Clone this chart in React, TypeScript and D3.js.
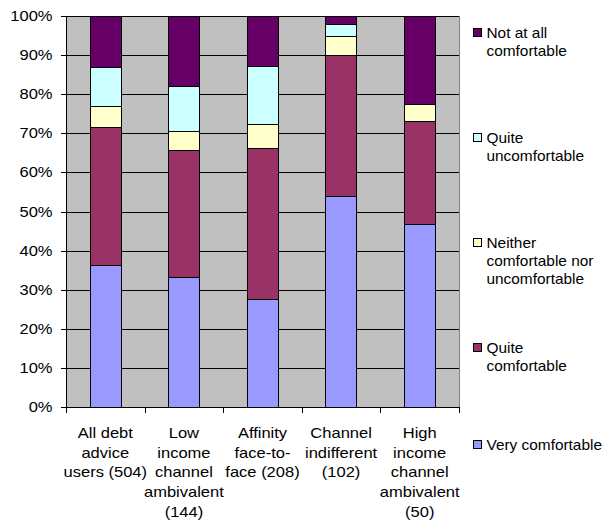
import React from "react";
import * as d3 from "d3";

const categories = [
  ["All debt", "advice", "users (504)"],
  ["Low", "income", "channel", "ambivalent", "(144)"],
  ["Affinity", "face-to-", "face (208)"],
  ["Channel", "indifferent", "(102)"],
  ["High", "income", "channel", "ambivalent", "(50)"],
];
const seriesNames = [
  "Very comfortable",
  "Quite comfortable",
  "Neither comfortable nor uncomfortable",
  "Quite uncomfortable",
  "Not at all comfortable",
];
const legendLines = [
  ["Very comfortable"],
  ["Quite", "comfortable"],
  ["Neither", "comfortable nor", "uncomfortable"],
  ["Quite", "uncomfortable"],
  ["Not at all", "comfortable"],
];
const colors = ["#9999FF", "#993366", "#FFFFCC", "#CCFFFF", "#660066"];
const veryComfortable = [36.4, 33.2, 27.7, 53.9, 46.8];
const quiteComfortable = [35.2, 32.6, 38.5, 36.0, 26.4];
const neither = [5.4, 4.9, 6.3, 5.0, 4.2];
const quiteUncomfortable = [9.9, 11.3, 14.6, 3.0, 0];
const notAtAll = [13.1, 18.0, 12.9, 2.1, 22.6];
const yTicks = [0, 10, 20, 30, 40, 50, 60, 70, 80, 90, 100];

const series = [veryComfortable, quiteComfortable, neither, quiteUncomfortable, notAtAll];

const FS = 14;

function T({ x, y, anchor, sx, children }: { x: number; y: number; anchor?: string; sx?: number; children: React.ReactNode }) {
  return (
    <text
      transform={`translate(${x},${y}) scale(${sx || 1.18},1)`}
      textAnchor={anchor || "start"}
      fontSize={FS}
      fill="#000"
    >
      {children}
    </text>
  );
}

export default function App() {
  const left = 66, right = 459, top = 16, bottom = 407;
  const x = d3.scaleBand<number>().domain(d3.range(categories.length)).range([left, right]).paddingInner(0).paddingOuter(0);
  const y = d3.scaleLinear().domain([0, 100]).range([bottom, top]);
  const bw = x.bandwidth() * 0.4;
  const font = "'Liberation Sans', Arial, sans-serif";

  const stacks = categories.map((_, i) => {
    const vals = series.map((s) => s[i]);
    const total = d3.sum(vals);
    let acc = 0;
    return vals.map((v) => {
      const y0 = (acc / total) * 100;
      acc += v;
      const y1 = (acc / total) * 100;
      return [y0, y1];
    });
  });

  const legendY = [445, 348, 243, 138, 33];

  return (
    <svg width={603} height={526} style={{ position: "absolute", left: 0, top: 0 }} fontFamily={font}>
      <rect x={0} y={0} width={603} height={526} fill="#fff" />
      <rect x={left} y={top} width={right - left} height={bottom - top} fill="#C0C0C0" />
      {yTicks.map((t) => (
        <line key={"g" + t} x1={left} x2={right} y1={Math.round(y(t)) + 0.5} y2={Math.round(y(t)) + 0.5} stroke="#000" strokeWidth={1} />
      ))}
      <line x1={right + 0.5} x2={right + 0.5} y1={top} y2={bottom} stroke="#808080" />
      {stacks.map((st, i) =>
        st.map(([a, b], j) =>
          b - a > 0 ? (
            <rect
              key={i + "-" + j}
              x={Math.round((x(i) as number) + (x.bandwidth() - bw) / 2) + 0.5}
              y={Math.round(y(b)) + 0.5}
              width={Math.round(bw)}
              height={Math.round(y(a)) - Math.round(y(b))}
              fill={colors[j]}
              stroke="#000"
              strokeWidth={1}
            />
          ) : null
        )
      )}
      <line x1={left + 0.5} x2={left + 0.5} y1={top} y2={bottom + 1} stroke="#000" />
      <line x1={left} x2={right + 1} y1={bottom + 0.5} y2={bottom + 0.5} stroke="#000" />
      {yTicks.map((t) => (
        <g key={"t" + t}>
          <line x1={left - 5} x2={left} y1={Math.round(y(t)) + 0.5} y2={Math.round(y(t)) + 0.5} stroke="#000" />
          <T x={52.5} y={y(t) + 5} anchor="end">
            {t}%
          </T>
        </g>
      ))}
      {d3.range(categories.length + 1).map((i) => {
        const xx = Math.round(left + i * x.bandwidth()) + 0.5;
        return <line key={"xt" + i} x1={xx} x2={xx} y1={bottom} y2={bottom + 6} stroke="#000" />;
      })}
      {categories.map((lines, i) =>
        lines.map((l, k) => (
          <T key={"c" + i + "-" + k} x={(x(i) as number) + x.bandwidth() / 2} y={438 + k * 19.7} anchor="middle">
            {l}
          </T>
        ))
      )}
      {legendLines.map((lines, j) => (
        <g key={"l" + j}>
          <rect x={473.5} y={legendY[j] - 4.5} width={8} height={8} fill={colors[j]} stroke="#000" />
          {lines.map((l, k) => (
            <T key={k} x={486.5} y={legendY[j] + 5 + k * 18} sx={1.1}>
              {l}
            </T>
          ))}
        </g>
      ))}
    </svg>
  );
}
